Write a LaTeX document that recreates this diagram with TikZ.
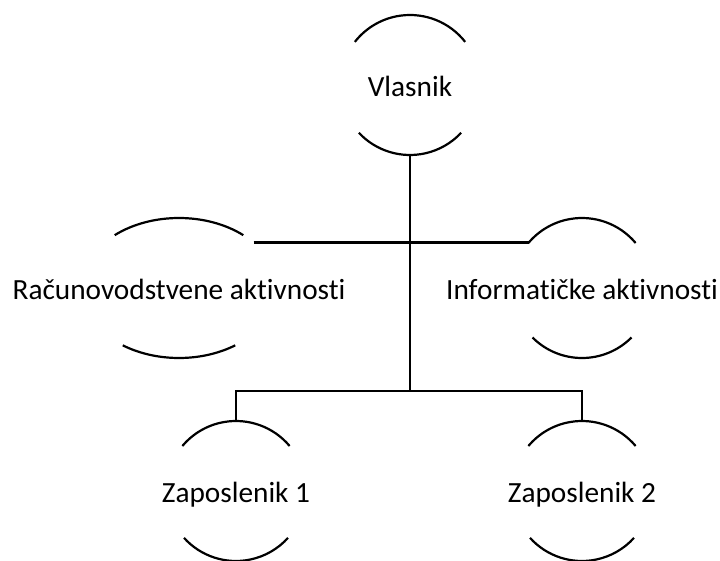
\documentclass[tikz,border=0pt]{standalone}
\usepackage{fontspec}
\setmainfont{Carlito}[Ligatures=NoCommon,RawFeature={-liga;-calt}]
\tikzset{
  unit/.style={font=\fontsize{29.3}{35}\selectfont, inner sep=0pt,
    text height=25.5pt, text depth=2.6pt},
  link/.style={line width=2.2pt},
}
\begin{document}
\begin{tikzpicture}[x=1pt,y=1pt,line width=2.2pt]
  \useasboundingbox (0,0) rectangle (720,560);
  \node[unit] (vl) at (410,475) {Vlasnik};
  \node[unit] (rc) at (179,272) {Računovodstvene aktivnosti};
  \node[unit] (ri) at (582,272) {Informatičke aktivnosti};
  \node[unit] (z1) at (236,69) {Zaposlenik 1};
  \node[unit] (z2) at (582,69) {Zaposlenik 2};
  \foreach \n/\rx/\ta/\ba in {vl/70/38/43, rc/98/49/55, ri/70/40/45, z1/70/40/42, z2/70/40/42}{
    \draw ([shift={(\ta:\rx pt and 70pt)}]\n.center)
      arc[start angle=\ta, end angle=180-\ta, x radius=\rx pt, y radius=70pt];
    \draw ([shift={(180+\ba:\rx pt and 70pt)}]\n.center)
      arc[start angle=180+\ba, end angle=360-\ba, x radius=\rx pt, y radius=70pt];
    \coordinate (\n-top) at ([yshift=70pt]\n.center);
    \coordinate (\n-bot) at ([yshift=-70pt]\n.center);
  }
  \coordinate (rc-e) at ([shift={(40.5:98pt and 70pt)}]rc.center);
  \coordinate (ri-w) at ([shift={(139.5:70pt and 70pt)}]ri.center);
  \coordinate (bus) at (410,169);
  \draw[link] (vl-bot) -- (vl-bot |- bus);
  \draw[link] (rc-e) -- (ri-w);
  \draw[link] (z1-top) |- (bus) -| (z2-top);
\end{tikzpicture}
\end{document}
